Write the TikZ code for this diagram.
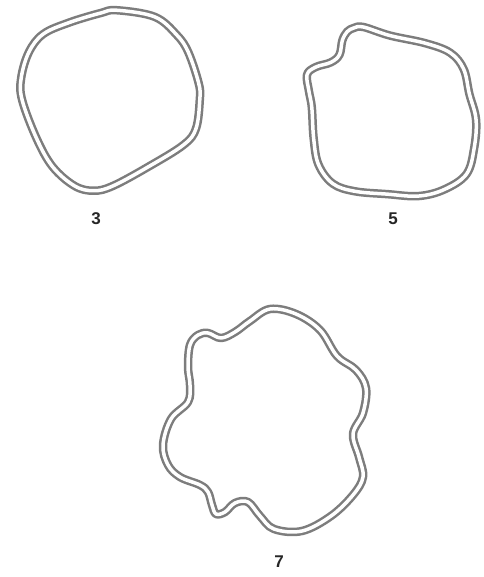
\documentclass[tikz,border=0pt]{standalone}
\usepackage{fontspec}
\setmainfont{Liberation Sans}
\definecolor{ringgray}{RGB}{125,125,125}
\tikzset{
  ring/.style={draw=ringgray, line width=2.5pt, double=white, double distance=3.5pt, line join=round},
  lbl/.style={font=\fontsize{17}{19}\selectfont\bfseries, text=black!85, inner sep=0pt}
}
\begin{document}
\begin{tikzpicture}[x=1pt,y=-1pt]
\useasboundingbox (0,0) rectangle (483,577);
% shape 3
\begin{scope}[shift={(110,100)},scale=0.955,shift={(-110,-100)}]
\draw[ring] plot[smooth cycle, tension=0.6] coordinates {
 (117,6) (157,13) (180,32) (192,50) (203,83) (204,100) (200,130) (187,147)
 (150,170) (113,190) (93,195) (73,190) (50,170) (33,140) (18,100) (17,77)
 (25,50) (40,31) (67,19) (100,9)};
\end{scope}
% shape 5
\begin{scope}[shift={(392,112)},scale=0.955,shift={(-392,-112)}]
\draw[ring] plot[smooth cycle, tension=0.6] coordinates {
 (352,24) (362,23) (390,32) (427,40) (453,50) (467,67) (473,93) (480,120)
 (478,150) (470,177) (447,193) (420,200) (387,198) (353,195) (330,187)
 (315,167) (310,140) (308,107) (305,90) (303,73) (312,65) (328,60)
 (337,52) (340,37) (345,28)};
\end{scope}
% shape 7
\draw[ring] plot[smooth cycle, tension=0.6] coordinates {
 (270,309) (296,314) (320,330) (337,356) (356,370) (366,388) (363,413)
 (353,434) (359,457) (363,477) (353,495) (331,516) (302,531) (274,529)
 (260,516) (248,502) (235,503) (225,512) (216,514) (212,505) (208,492)
 (200,485) (180,477) (168,465) (163,445) (171,419) (188,402) (190,385)
 (188,367) (190,345) (198,335) (208,333) (221,338) (235,332) (250,321)};
\node[lbl] (l3) at (96,219) {3};
\node[lbl] (l5) at (393,219) {5};
\node[lbl] (l7) at (279,562) {7};
\end{tikzpicture}
\end{document}
